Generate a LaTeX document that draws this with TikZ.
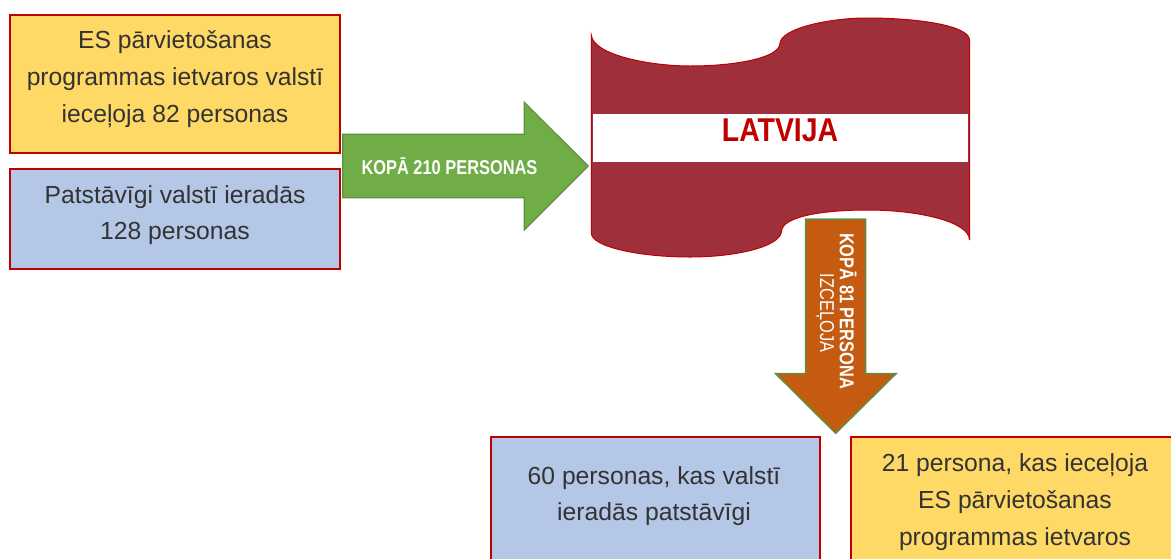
\documentclass[tikz,border=0pt]{standalone}
\usepackage{graphicx}
\usepackage{fontspec}
\setmainfont{Liberation Sans}
\definecolor{boxred}{HTML}{C00000}
\definecolor{yell}{HTML}{FFD966}
\definecolor{blu}{HTML}{B4C7E7}
\definecolor{flagred}{HTML}{9E2F3B}
\definecolor{arrgreen}{HTML}{70AD47}
\definecolor{arredge}{HTML}{5E8F45}
\definecolor{arrorange}{HTML}{C55A11}
\newcommand{\narrowed}[2]{\scalebox{#1}[1]{#2}}
\tikzset{
  x=1pt,y=-1pt,
  infobox/.style={draw=boxred,line width=1.5pt},
  infotext/.style={align=center,font=\fontsize{24.7}{36.7}\selectfont,text=black!80,inner sep=0pt},
  arrowtext/.style={font=\fontsize{20}{22}\selectfont\bfseries,text=white,inner sep=0pt},
}
\begin{document}
\begin{tikzpicture}
\useasboundingbox (0,0) rectangle (1171,558);
% boxes
\draw[infobox,fill=yell] (10,15) rectangle (340,153);
\draw[infobox,fill=blu] (10,169) rectangle (340,269);
\draw[infobox,fill=blu] (491,437) rectangle (820,570);
\draw[infobox,fill=yell] (851,437) rectangle (1185,570);
\node[infotext] (t1) at (175,79) {ES pārvietošanas\\programmas ietvaros valstī\\ieceļoja 82 personas};
\node[infotext] (t2) at (175,215) {Patstāvīgi valstī ieradās\\128 personas};
\node[infotext] (t3) at (654,496) {60 personas, kas valstī\\ieradās patstāvīgi};
\node[infotext] (t4) at (1015,502) {21 persona, kas ieceļoja\\ES pārvietošanas\\programmas ietvaros};
% flag
\draw[boxred,line width=1pt,fill=flagred]
  (591.3,35) .. controls (593,55) and (650,66) .. (690,66)
  .. controls (735,66) and (780,58) .. (780,43)
  .. controls (782,28) and (830,18) .. (867,18)
  .. controls (920,18) and (969.5,26) .. (969.5,40)
  -- (969.5,240)
  .. controls (969.5,222) and (920,210) .. (867,210)
  .. controls (825,210) and (782,216) .. (781.5,231.5)
  .. controls (780,247) and (735,257) .. (690,257)
  .. controls (640,257) and (591.3,247) .. (591.3,233)
  -- cycle;
\fill[white] (592.7,114) rectangle (968,161.7);
\node[font=\fontsize{33}{35}\selectfont\bfseries,text=boxred,inner sep=0pt] (lat) at (780,130) {\narrowed{0.86}{LATVIJA}};
% arrows
\draw[arredge,line width=1.2pt,fill=arrgreen]
  (342.7,134.3) -- (524.3,134.3) -- (524.3,102.3) -- (588.3,166) -- (524.3,230) -- (524.3,197.7) -- (342.7,197.7) -- cycle;
\node[arrowtext] (kopa) at (449.5,166) {\narrowed{0.82}{KOPĀ 210 PERSONAS}};
\draw[arredge,line width=1.5pt,fill=arrorange]
  (805.7,219) -- (865.7,219) -- (865.7,373.7) -- (896,373.7) -- (835.7,433.3) -- (775.7,373.7) -- (805.7,373.7) -- cycle;
\node[arrowtext,rotate=-90] (kopb) at (848,311) {\narrowed{0.82}{KOPĀ 81 PERSONA}};
\node[rotate=-90,font=\fontsize{20}{22}\selectfont,text=white,inner sep=0pt] (izc) at (825,313) {\narrowed{0.82}{IZCEĻOJA}};
\end{tikzpicture}
\end{document}
